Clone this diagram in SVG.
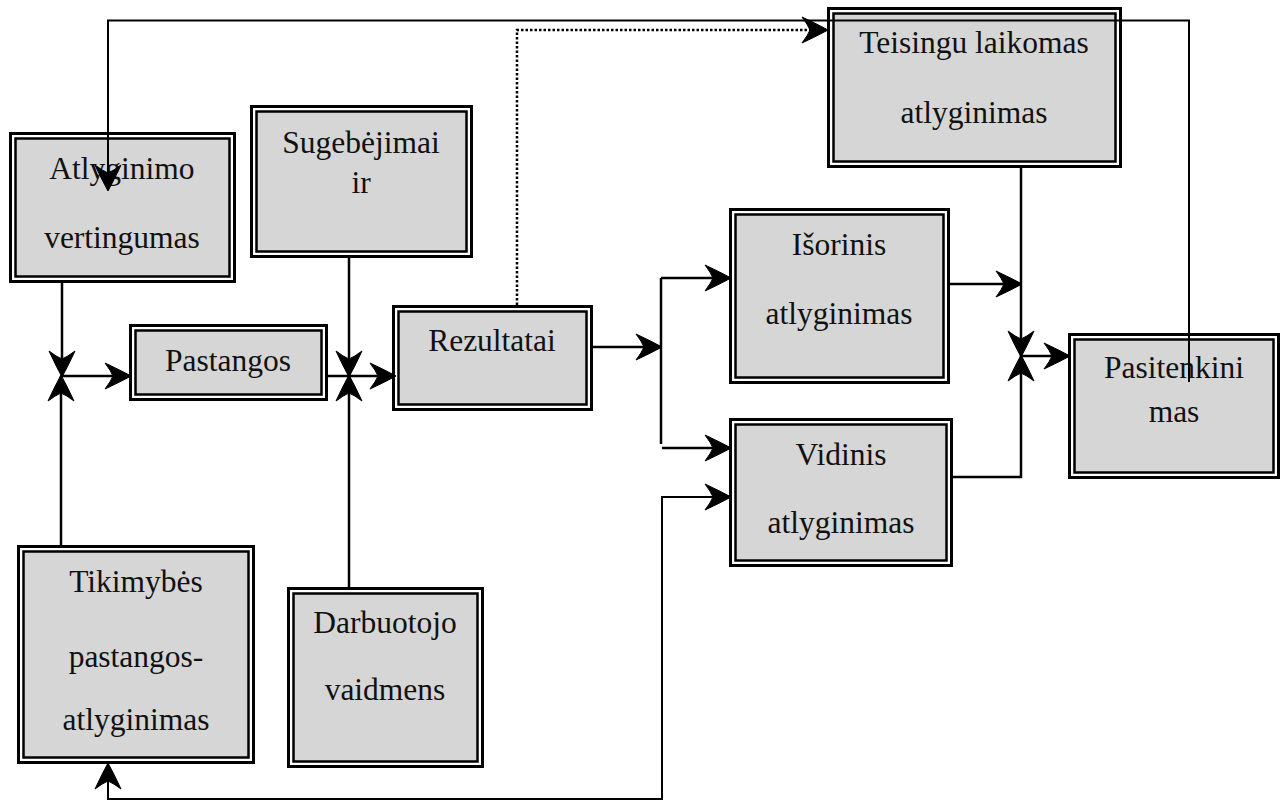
<svg xmlns="http://www.w3.org/2000/svg" width="1288" height="803" viewBox="0 0 1288 803">
<style>
.o{fill:#ffffff;stroke:#000;stroke-width:3}
.i{fill:#d6d6d6;stroke:#000;stroke-width:2.5}
text{font-family:"Liberation Serif","Times New Roman",serif;font-size:31.5px;fill:#111;text-anchor:middle}
.c{fill:none;stroke:#000;stroke-width:2.5}
.t{fill:none;stroke:#000;stroke-width:2}
.d{fill:none;stroke:#000;stroke-width:2.5;stroke-dasharray:2.5 2}
</style>
<defs>
<marker id="a" markerUnits="userSpaceOnUse" viewBox="-30 -16 32 32" refX="0" refY="0" markerWidth="32" markerHeight="32" orient="auto-start-reverse">
<path d="M1,0 Q-10,-6 -25,-13 Q-19,-5 -17,0 Q-19,5 -25,13 Q-10,6 1,0 Z" fill="#000" stroke="#000" stroke-width="1" stroke-linejoin="round"/>
</marker>
</defs>
<g id="atlyginimo">
<rect class="o" x="10.5" y="133.5" width="224" height="148"/>
<rect class="i" x="15.5" y="138.5" width="214" height="138"/>
<text x="122" y="179">Atlyginimo</text>
<text x="122" y="248">vertingumas</text>
</g>
<g id="sugebejimai">
<rect class="o" x="251.5" y="106.5" width="220" height="150"/>
<rect class="i" x="256.5" y="111.5" width="210" height="140"/>
<text x="361" y="153">Sugebėjimai</text>
<text x="361" y="193">ir</text>
</g>
<g id="pastangos">
<rect class="o" x="130.5" y="325.5" width="196" height="74"/>
<rect class="i" x="135.5" y="330.5" width="186" height="64"/>
<text x="228" y="371">Pastangos</text>
</g>
<g id="rezultatai">
<rect class="o" x="393.5" y="306.5" width="198" height="103"/>
<rect class="i" x="398.5" y="311.5" width="188" height="93"/>
<text x="492" y="351">Rezultatai</text>
</g>
<g id="tikimybes">
<rect class="o" x="18.5" y="546.5" width="235" height="216"/>
<rect class="i" x="23.5" y="551.5" width="225" height="206"/>
<text x="136" y="592">Tikimybės</text>
<text x="136" y="667">pastangos-</text>
<text x="136" y="730">atlyginimas</text>
</g>
<g id="darbuotojo">
<rect class="o" x="288.5" y="588.5" width="194" height="178"/>
<rect class="i" x="293.5" y="593.5" width="184" height="168"/>
<text x="385" y="633">Darbuotojo</text>
<text x="385" y="700">vaidmens</text>
</g>
<g id="teisingu">
<rect class="o" x="828.5" y="8.5" width="292" height="158"/>
<rect class="i" x="833.5" y="13.5" width="282" height="148"/>
<text x="974" y="53">Teisingu laikomas</text>
<text x="974" y="123">atlyginimas</text>
</g>
<g id="isorinis">
<rect class="o" x="730.5" y="209.5" width="218" height="173"/>
<rect class="i" x="735.5" y="214.5" width="208" height="163"/>
<text x="839" y="255">Išorinis</text>
<text x="839" y="324">atlyginimas</text>
</g>
<g id="vidinis">
<rect class="o" x="730.5" y="419.5" width="221" height="146"/>
<rect class="i" x="735.5" y="424.5" width="211" height="136"/>
<text x="841" y="465">Vidinis</text>
<text x="841" y="533">atlyginimas</text>
</g>
<g id="pasitenkinimas">
<rect class="o" x="1069.5" y="334.5" width="209" height="143"/>
<rect class="i" x="1074.5" y="339.5" width="199" height="133"/>
<text x="1174" y="378">Pasitenkini</text>
<text x="1174" y="422">mas</text>
</g>
<g id="connectors">
<path class="t" d="M1189,382 V20.5 H108 V190" marker-end="url(#a)"/>
<path class="d" d="M517,305 V30 H827" marker-end="url(#a)"/>
<path class="c" d="M62,283 V376" marker-end="url(#a)"/>
<path class="c" d="M61,545 V376" marker-end="url(#a)"/>
<path class="c" d="M62,376 H130" marker-end="url(#a)"/>
<path class="c" d="M349,258 V376" marker-end="url(#a)"/>
<path class="c" d="M349,587 V376" marker-end="url(#a)"/>
<path class="c" d="M327,376 H395" marker-end="url(#a)"/>
<path class="c" d="M593,347 H661" marker-end="url(#a)"/>
<path class="c" d="M661,278 V444"/>
<path class="c" d="M661,278 H730" marker-end="url(#a)"/>
<path class="c" d="M662,448 H730" marker-end="url(#a)"/>
<path class="t" d="M108,764 V799 H662 V497 H730" marker-start="url(#a)" marker-end="url(#a)"/>
<path class="c" d="M949,284 H1021" marker-end="url(#a)"/>
<path class="c" d="M1021,168 V356" marker-end="url(#a)"/>
<path class="c" d="M952,477 H1021 V356" marker-end="url(#a)"/>
<path class="c" d="M1021,356 H1069" marker-end="url(#a)"/>
</g>
</svg>
